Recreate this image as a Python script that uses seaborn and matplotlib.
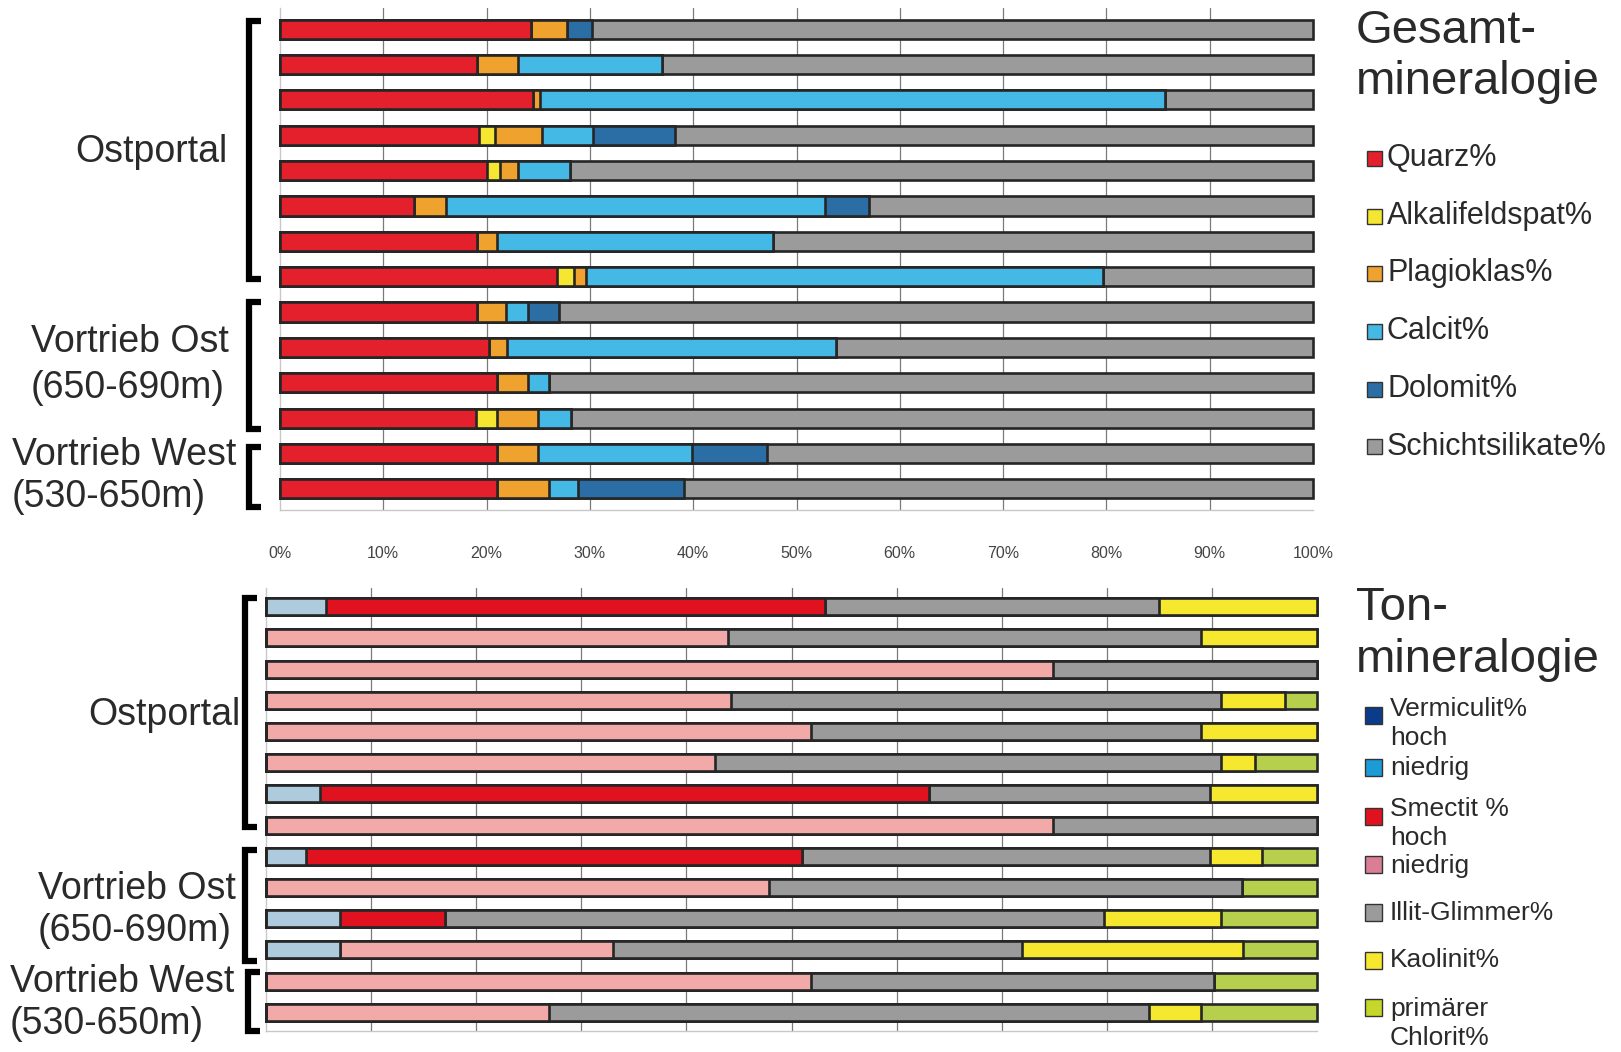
import numpy as np
import pandas as pd
import matplotlib
matplotlib.use("Agg")
import matplotlib.pyplot as plt
from matplotlib.patches import Rectangle
from matplotlib.lines import Line2D
import seaborn as sns

# ---- Gesamtmineralogie (rows listed top to bottom) ----
rows = [str(i) for i in range(1, 15)]
quarz = [24.3, 19.1, 24.5, 19.3, 20.0, 13.0, 19.1, 26.8, 19.1, 20.2, 21.0, 19.0, 21.0, 21.0]
alkalifeldspat = [0, 0, 0, 1.5, 1.3, 0, 0, 1.7, 0, 0, 0, 2.0, 0, 0]
plagioklas = [3.5, 3.9, 0.7, 4.6, 1.7, 3.1, 1.9, 1.1, 2.8, 1.8, 3.0, 4.0, 4.0, 5.0]
calcit = [0, 14.0, 60.5, 4.9, 5.1, 36.7, 26.7, 50.1, 2.1, 31.8, 2.0, 3.2, 14.9, 2.8]
dolomit = [2.4, 0, 0, 7.9, 0, 4.2, 0, 0, 3.0, 0, 0, 0, 7.2, 10.3]
schichtsilikate = [69.8, 63.0, 14.3, 61.8, 71.9, 43.0, 52.3, 20.3, 73.0, 46.2, 74.0, 71.8, 52.9, 60.9]

# ---- Tonmineralogie ----
vermiculit_hoch = [0] * 14
vermiculit_niedrig = [5.7, 0, 0, 0, 0, 0, 5.1, 0, 3.8, 0, 7.0, 7.0, 0, 0]
smectit_hoch = [47.5, 0, 0, 0, 0, 0, 58.0, 0, 47.2, 0, 10.0, 0, 0, 0]
smectit_niedrig = [0, 44.0, 74.9, 44.2, 51.9, 42.7, 0, 74.9, 0, 47.9, 0, 26.0, 51.9, 26.9]
illit_glimmer = [31.8, 45.0, 25.1, 46.7, 37.1, 48.2, 26.7, 25.1, 38.8, 45.0, 62.7, 38.9, 38.3, 57.1]
kaolinit = [15.0, 11.0, 0, 6.1, 11.0, 3.2, 10.2, 0, 5.0, 0, 11.2, 21.1, 0, 5.0]
chlorit = [0, 0, 0, 3.0, 0, 5.9, 0, 0, 5.2, 7.1, 9.1, 7.0, 9.8, 11.0]

x_ticks = [0, 10, 20, 30, 40, 50, 60, 70, 80, 90, 100]
x_tick_labels = [f"{v}%" for v in x_ticks]

top_labels = ["Quarz%", "Alkalifeldspat%", "Plagioklas%", "Calcit%", "Dolomit%", "Schichtsilikate%"]
top_series = [quarz, alkalifeldspat, plagioklas, calcit, dolomit, schichtsilikate]
top_colors = ["#e3202b", "#f4e631", "#f0a22e", "#45b9e6", "#2b6ea6", "#9b9b9b"]

bot_series = [vermiculit_hoch, vermiculit_niedrig, smectit_hoch, smectit_niedrig,
              illit_glimmer, kaolinit, chlorit]
bot_colors = ["#0b3c8c", "#aecbdd", "#e0121f", "#f2aaa8", "#9b9b9b", "#f6e82e", "#b6cf4c"]

sns.set_theme(style="white")
plt.rcParams["font.family"] = ["Liberation Sans", "DejaVu Sans"]
TXT = "#2a2a2a"

W, H = 1621, 1052
fig = plt.figure(figsize=(W / 100, H / 100), dpi=100)
fig.patch.set_facecolor("white")


def px_axes(left, top, right, bottom):
    return fig.add_axes([left / W, 1 - bottom / H, (right - left) / W, (bottom - top) / H])


def stacked(ax, series, colors, width):
    df = pd.DataFrame({"row": rows})
    cum = np.cumsum(np.array(series, dtype=float), axis=0)
    for k in range(len(series) - 1, -1, -1):
        df["cum"] = cum[k]
        sns.barplot(data=df, x="cum", y="row", order=rows, orient="h",
                    color=colors[k], saturation=1, width=width,
                    edgecolor="#262626", linewidth=1.9, ax=ax, zorder=3)
    for p in ax.patches:
        p.set_clip_on(False)
    ax.set_xlim(0, 100)
    ax.set_ylim(13.6, -0.6)
    ax.set_xticks(x_ticks)
    ax.set_yticks([])
    ax.set_xlabel("")
    ax.set_ylabel("")
    for x in x_ticks[1:-1]:
        ax.axvline(x, color="#7a7a7a", lw=0.9, zorder=1)
    for s in ["top", "right"]:
        ax.spines[s].set_visible(False)
    for s in ["left", "bottom"]:
        ax.spines[s].set_color("#c8c8c8")
        ax.spines[s].set_linewidth(1.0)


ax1 = px_axes(280, 8, 1313, 510)
stacked(ax1, top_series, top_colors, 0.54)
ax1.set_xticklabels(x_tick_labels, fontsize=11.5, color="#444444")
ax1.tick_params(axis="x", length=0, pad=26)

ax2 = px_axes(266, 588, 1317, 1031)
stacked(ax2, bot_series, bot_colors, 0.54)
ax2.set_xticklabels([])
ax2.tick_params(axis="x", length=0)


def bracket(x, y0, y1, serif=12, lw=4.5):
    fx = x / W
    fy0, fy1 = 1 - y0 / H, 1 - y1 / H
    fs = serif / W
    fig.add_artist(Line2D([fx + fs, fx, fx, fx + fs], [fy0, fy0, fy1, fy1],
                          color="black", lw=lw, transform=fig.transFigure,
                          solid_joinstyle="miter", solid_capstyle="butt"))


def label(x, y, s, ha="left", size=27):
    fig.text(x / W, 1 - y / H, s, ha=ha, va="center", fontsize=size, color=TXT)


# group brackets and labels, upper panel
bracket(249, 21, 279)
bracket(249, 302, 429)
bracket(249, 447, 507)
label(228, 152, "Ostportal", ha="right")
label(31, 342, "Vortrieb Ost")
label(31, 388, "(650-690m)")
label(12, 455, "Vortrieb West")
label(12, 497, "(530-650m)")

# group brackets and labels, lower panel
bracket(245, 598, 827)
bracket(245, 850, 961)
bracket(248, 972, 1031)
label(240, 715, "Ostportal", ha="right")
label(38, 889, "Vortrieb Ost")
label(38, 931, "(650-690m)")
label(10, 982, "Vortrieb West")
label(10, 1024, "(530-650m)")

# panel titles
label(1356, 31, "Gesamt-", size=34)
label(1356, 82, "mineralogie", size=34)
label(1356, 608, "Ton-", size=34)
label(1356, 660, "mineralogie", size=34)


def swatch(x, y, color, size=15):
    fig.add_artist(Rectangle((x / W, 1 - (y + size / 2) / H), size / W, size / H,
                             facecolor=color, edgecolor="#333333", lw=1.0,
                             transform=fig.transFigure))


# legend, upper panel
top_y = [158, 216, 273, 331, 389, 447]
for lab, col, y in zip(top_labels, top_colors, top_y):
    swatch(1367, y, col)
    label(1387, y, lab, size=22)

# legend, lower panel
bot_legend = [
    (715, "#0b3c8c"), (767, "#1c9bd6"), (816, "#e0121f"), (864, "#d97e94"),
    (912, "#9b9b9b"), (960, "#f6e82e"), (1007, "#c6d62a"),
]
for y, col in bot_legend:
    swatch(1365, y, col, size=17)
bot_text = [
    (709, "Vermiculit%"), (738, "hoch"), (768, "niedrig"),
    (809, "Smectit %"), (838, "hoch"), (866, "niedrig"),
    (913, "Illit-Glimmer%"), (960, "Kaolinit%"),
    (1009, "primärer"), (1038, "Chlorit%"),
]
for y, s in bot_text:
    label(1390, y, s, size=19)

fig.savefig("out.png", dpi=100, facecolor="white")
